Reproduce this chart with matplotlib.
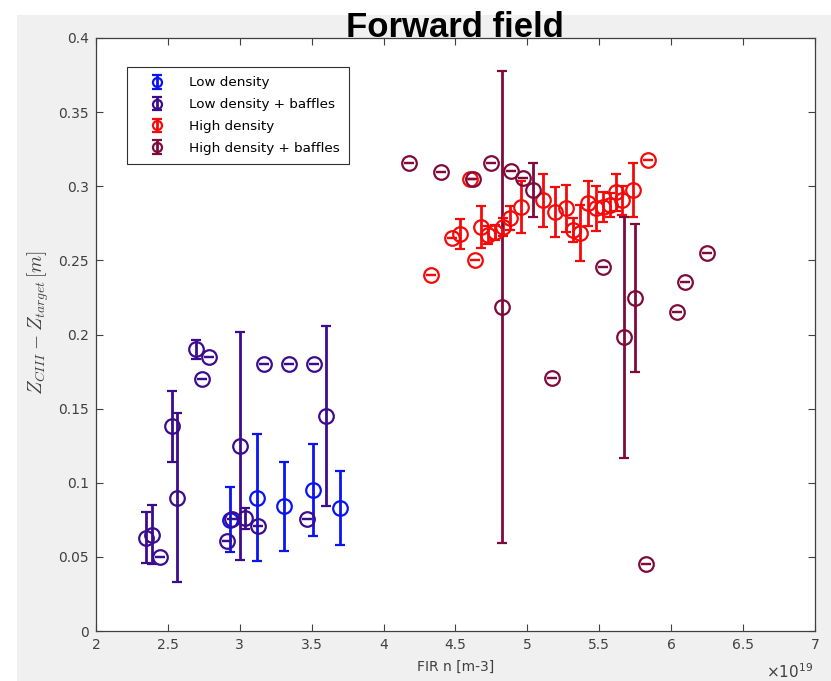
import numpy as np
import matplotlib
matplotlib.use("Agg")
import matplotlib.pyplot as plt
from matplotlib.patches import Rectangle

# x in units of 1e19 m^-3, y in m, err = half length of the error bar
low_x = [2.93, 3.12, 3.31, 3.51, 3.70]
low_y = [0.075, 0.090, 0.084, 0.095, 0.083]
low_e = [0.022, 0.043, 0.030, 0.031, 0.025]

lowb_x = [2.35, 2.39, 2.445, 2.53, 2.565, 2.695, 2.735, 2.785, 2.91, 2.945,
          3.00, 3.04, 3.125, 3.17, 3.34, 3.465, 3.515, 3.60]
lowb_y = [0.063, 0.065, 0.050, 0.138, 0.090, 0.190, 0.170, 0.185, 0.061, 0.0755,
          0.125, 0.076, 0.071, 0.180, 0.180, 0.0755, 0.180, 0.145]
lowb_e = [0.017, 0.020, 0.0, 0.024, 0.057, 0.0065, 0.0, 0.0, 0.0, 0.0,
          0.077, 0.007, 0.0, 0.0, 0.0, 0.0, 0.0, 0.061]

high_x = [4.33, 4.475, 4.53, 4.60, 4.635, 4.68, 4.73, 4.775, 4.83, 4.88,
          4.955, 5.11, 5.19, 5.27, 5.32, 5.365, 5.42, 5.48, 5.53, 5.575,
          5.62, 5.66, 5.735, 5.84]
high_y = [0.240, 0.265, 0.268, 0.305, 0.250, 0.2725, 0.267, 0.269, 0.2725, 0.2785,
          0.286, 0.2905, 0.2825, 0.285, 0.2705, 0.2685, 0.2885, 0.285, 0.286, 0.2875,
          0.296, 0.2905, 0.2975, 0.3175]
high_e = [0.0, 0.0, 0.010, 0.0, 0.0, 0.014, 0.006, 0.005, 0.006, 0.008,
          0.0175, 0.018, 0.017, 0.016, 0.008, 0.019, 0.015, 0.015, 0.010, 0.008,
          0.0125, 0.010, 0.018, 0.0]

highb_x = [4.18, 4.40, 4.62, 4.745, 4.825, 4.89, 4.97, 5.04, 5.17, 5.53,
           5.67, 5.75, 5.825, 6.04, 6.10, 6.25]
highb_y = [0.3155, 0.3095, 0.305, 0.3155, 0.2185, 0.310, 0.3055, 0.2975, 0.1705, 0.2455,
           0.198, 0.2245, 0.045, 0.215, 0.2355, 0.255]
highb_e = [0.0, 0.0, 0.0, 0.0, 0.159, 0.0, 0.0, 0.018, 0.0, 0.0,
           0.081, 0.050, 0.0, 0.0, 0.0, 0.0]

labels = ["Low density", "Low density + baffles", "High density", "High density + baffles"]
colors = ["#0a14f0", "#3c0c8e", "#f50a0a", "#7f0a3c"]

plt.rcParams["mathtext.fontset"] = "cm"

fig = plt.figure(figsize=(8.31, 6.81), dpi=100)
fig.patches.append(Rectangle((17 / 831, 0), 1, (681 - 15) / 681,
                             transform=fig.transFigure, facecolor="#f0f0f0",
                             edgecolor="none", zorder=-10))
ax = fig.add_axes([0.1155, 0.0734, 0.865, 0.8708])

series = [(low_x, low_y, low_e), (lowb_x, lowb_y, lowb_e),
          (high_x, high_y, high_e), (highb_x, highb_y, highb_e)]
for (x, y, e), lab, c in zip(series, labels, colors):
    ax.errorbar(x, y, yerr=e, fmt="o", mfc="none", mec=c, ecolor=c, mew=1.6,
                ms=10.5, elinewidth=2.0, capsize=3.6, capthick=2.0, label=lab)

ax.set_xlim(2, 7)
ax.set_ylim(0, 0.4)
ax.set_xticks(np.arange(2, 7.01, 0.5))
ax.set_xticklabels(["2", "2.5", "3", "3.5", "4", "4.5", "5", "5.5", "6", "6.5", "7"])
ax.set_yticks(np.arange(0, 0.401, 0.05))
ax.set_yticklabels(["0", "0.05", "0.1", "0.15", "0.2", "0.25", "0.3", "0.35", "0.4"])
ax.tick_params(direction="in", top=True, right=True, length=5, width=0.8,
               colors="#404040", labelsize=10, pad=5)
for s in ax.spines.values():
    s.set_color("#404040")
    s.set_linewidth(0.9)

ax.set_title("Forward field", family="Liberation Sans", fontweight="bold",
             fontsize=25, pad=1)
ax.set_xlabel("FIR n [m-3]", fontsize=10, color="#404040", labelpad=6)
ax.set_ylabel(r"$Z_{CIII} - Z_{target}\,[m]$", fontsize=14, color="#404040")
ax.yaxis.set_label_coords(-0.062, 0.52)
ax.text(0.997, -0.069, r"$\times10^{19}$", transform=ax.transAxes, ha="right",
        va="center", fontsize=11, color="#404040", math_fontfamily="dejavusans")

leg = ax.legend(loc="upper left", bbox_to_anchor=(0.043, 0.951), borderaxespad=0,
                fontsize=9.7, markerscale=0.62, fancybox=False, framealpha=1,
                edgecolor="#303030", handlelength=3.0, handletextpad=0.9,
                borderpad=0.7, labelspacing=0.65)
leg.get_frame().set_linewidth(0.8)

fig.savefig("out.png", dpi=100)
